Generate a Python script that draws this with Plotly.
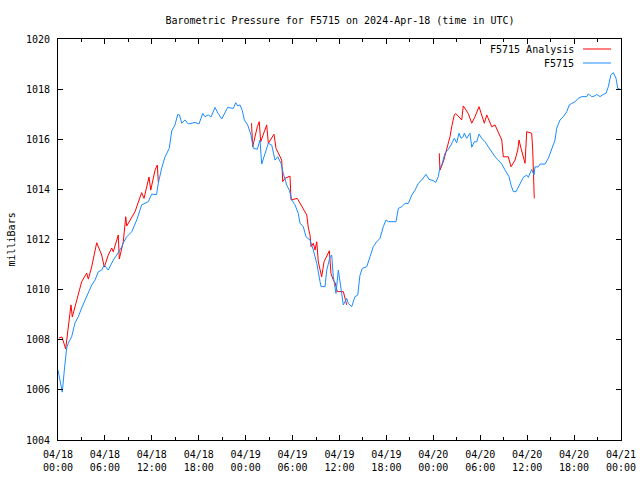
import plotly.graph_objects as go

# ---- data (hours since 2024-04-18 00:00 UTC, pressure in milliBars) ----
obs_hours = [0.00, 0.19, 0.55, 0.81, 1.11, 1.32, 1.75, 2.17, 2.60, 3.03, 3.45, 3.88, 4.31, 4.73,
             5.15, 5.59, 5.92, 6.43, 6.65, 7.07, 7.51, 7.93, 8.15, 8.35, 8.79, 9.43, 10.07, 10.70,
             11.55, 11.98, 12.60, 12.83, 13.26, 13.68, 14.23, 14.54, 14.96, 15.31, 15.54, 15.82,
             16.24, 16.66, 17.52, 18.03, 18.51, 18.80, 19.22, 19.57, 20.08, 20.46, 20.94, 21.70,
             22.42, 22.73, 22.98, 23.28, 23.57, 23.83, 24.26, 24.68, 24.98, 25.49, 25.83, 26.05,
             26.47, 26.90, 27.33, 27.75, 28.10, 28.52, 28.81, 29.25, 29.58, 29.89, 30.31, 30.73,
             30.95, 31.37, 31.72, 32.23, 32.65, 33.09, 33.51, 33.64, 34.15, 34.37, 34.79, 35.00,
             35.21, 35.55, 35.85, 36.07, 36.49, 36.92, 37.13, 37.56, 37.98, 38.33, 38.62, 38.92,
             39.48, 39.90, 40.32, 40.76, 41.18, 41.60, 41.95, 42.24, 43.23, 43.52, 43.96, 44.38,
             44.80, 45.24, 45.66, 46.08, 46.51, 47.06, 47.45, 48.00, 48.30, 48.64, 48.85, 49.07,
             49.49, 49.92, 50.26, 50.68, 50.99, 51.28, 51.54, 51.83, 51.96, 52.27, 52.69, 52.91,
             53.24, 53.55, 53.84, 54.19, 54.61, 55.03, 55.47, 55.89, 56.31, 56.75, 57.17, 57.39,
             57.68, 57.94, 58.23, 58.58, 58.87, 59.21, 59.51, 59.94, 60.15, 60.58, 60.88, 61.00,
             61.43, 61.64, 62.28, 62.71, 63.14, 63.56, 63.78, 64.20, 64.62, 65.06, 65.39, 65.70,
             66.12, 66.54, 66.98, 67.62, 67.82, 68.26, 68.68, 68.89, 69.32, 69.74, 70.08, 70.38,
             70.69, 71.02, 71.36, 71.58, 71.87]
obs_mb = [1006.79, 1006.47, 1005.91, 1006.79, 1007.67, 1007.87, 1008.12, 1008.67, 1008.92, 1009.27,
          1009.59, 1009.92, 1010.18, 1010.38, 1010.71, 1010.78, 1010.98, 1010.78, 1010.94, 1011.18,
          1011.38, 1011.58, 1011.71, 1011.86, 1012.11, 1012.31, 1012.78, 1013.38, 1013.51, 1013.81,
          1013.79, 1014.25, 1014.85, 1015.29, 1015.64, 1016.33, 1016.57, 1016.99, 1016.97, 1016.64,
          1016.77, 1016.61, 1016.67, 1016.61, 1017.03, 1016.90, 1016.97, 1016.89, 1017.27, 1017.04,
          1016.81, 1017.27, 1017.23, 1017.46, 1017.33, 1017.37, 1017.14, 1016.77, 1016.57, 1016.17,
          1015.64, 1015.60, 1015.97, 1015.01, 1015.44, 1015.84, 1015.77, 1015.17, 1015.30, 1015.04,
          1014.64, 1014.17, 1013.97, 1013.58, 1013.38, 1013.04, 1012.65, 1012.51, 1012.11, 1011.98,
          1011.58, 1011.05, 1010.32, 1010.12, 1010.12, 1010.78, 1011.31, 1011.38, 1010.51, 1009.85,
          1010.78, 1010.25, 1009.39, 1009.65, 1009.45, 1009.32, 1009.72, 1009.78, 1010.58, 1010.85,
          1010.91, 1011.31, 1011.71, 1011.91, 1012.05, 1012.51, 1012.78, 1012.71, 1012.71, 1013.24,
          1013.31, 1013.44, 1013.44, 1013.77, 1013.97, 1014.24, 1014.37, 1014.60, 1014.40, 1014.35,
          1014.28, 1014.51, 1014.90, 1014.97, 1015.44, 1015.60, 1015.77, 1016.04, 1015.86, 1016.24,
          1016.04, 1016.10, 1016.24, 1016.04, 1016.24, 1015.68, 1015.90, 1015.90, 1016.21, 1016.04,
          1015.90, 1015.70, 1015.50, 1015.30, 1015.17, 1015.01, 1014.77, 1014.64, 1014.51, 1014.17,
          1013.91, 1013.91, 1014.11, 1014.31, 1014.48, 1014.57, 1014.48, 1014.80, 1014.57, 1014.90,
          1014.90, 1015.01, 1015.01, 1015.24, 1015.64, 1015.97, 1016.44, 1016.77, 1016.90, 1017.10,
          1017.37, 1017.43, 1017.50, 1017.63, 1017.70, 1017.70, 1017.81, 1017.70, 1017.73, 1017.79,
          1017.70, 1017.79, 1017.83, 1018.10, 1018.56, 1018.66, 1018.43, 1018.03, 1018.00]

# analysis series (None marks gaps)
ana_hours = [0.13, 0.51, 0.98, 1.32, 1.66, 1.83, 2.17, 2.60, 3.03, 3.67, 3.88, 4.31, 4.95, 5.59,
             5.92, 6.43, 6.87, 7.07, 7.71, 7.84, 8.35, 8.66, 8.79, 9.85, 10.70, 11.00, 11.64,
             11.86, 12.41, 12.70, 12.83, None,
             24.75, 24.90, 25.49, 25.74, 25.92, 26.69, 26.90, 27.62, 27.88, 28.61, 28.74, 29.03,
             29.67, 29.80, 30.60, 31.17, 31.81, 32.02, 32.23, 32.36, 32.65, 32.87, 33.09, 33.29,
             33.72, 34.02, 34.70, 34.91, 35.21, 35.43, 35.72, 36.49, 36.74, 36.92, None,
             48.76, 48.85, 49.28, 49.71, 50.13, 50.35, 50.68, 50.86, 51.28, 51.63, 51.83, 52.47,
             52.91, 53.33, 53.84, 54.19, 54.52, 54.83, 55.12, 55.47, 55.89, 56.40, 56.75, 56.95,
             57.59, 57.94, 58.45, 58.80, 58.96, 59.21, 59.51, 59.73, 59.94, 60.58, 60.71, 60.79,
             60.91]
ana_mb = [1008.07, 1008.11, 1007.63, 1008.51, 1009.39, 1008.91, 1009.32, 1009.92, 1010.32, 1010.66,
          1010.42, 1010.91, 1011.87, 1011.38, 1010.90, 1011.38, 1011.66, 1011.51, 1012.18, 1011.22,
          1011.91, 1012.91, 1012.54, 1013.11, 1013.87, 1013.64, 1014.49, 1013.97, 1014.77, 1014.97,
          1014.29, None,
          1016.64, 1015.70, 1016.50, 1016.70, 1015.90, 1016.57, 1015.84, 1016.20, 1015.64, 1015.17,
          1014.31, 1014.44, 1014.53, 1013.58, 1013.64, 1013.31, 1012.98, 1012.45, 1012.18, 1011.71,
          1011.85, 1011.58, 1011.91, 1011.11, 1010.51, 1011.11, 1011.55, 1010.65, 1010.38, 1010.28,
          1009.92, 1009.92, 1009.58, 1009.39, None,
          1015.44, 1014.77, 1015.10, 1015.57, 1016.10, 1016.50, 1016.97, 1017.03, 1016.90, 1016.77,
          1017.33, 1017.03, 1016.64, 1016.90, 1017.30, 1016.97, 1016.64, 1016.97, 1016.77, 1016.50,
          1016.57, 1016.17, 1015.97, 1015.30, 1015.30, 1014.90, 1015.17, 1015.57, 1015.97, 1015.64,
          1015.30, 1015.04, 1016.30, 1016.24, 1015.57, 1014.31, 1013.64]

tick_hours = [0, 6, 12, 18, 24, 30, 36, 42, 48, 54, 60, 66, 72]
tick_labels = ["04/18<br>00:00", "04/18<br>06:00", "04/18<br>12:00", "04/18<br>18:00",
               "04/19<br>00:00", "04/19<br>06:00", "04/19<br>12:00", "04/19<br>18:00",
               "04/20<br>00:00", "04/20<br>06:00", "04/20<br>12:00", "04/20<br>18:00",
               "04/21<br>00:00"]
y_ticks = [1004, 1006, 1008, 1010, 1012, 1014, 1016, 1018, 1020]

RED = "#ff0000"
BLUE = "#1a8cff"
FONT = "DejaVu Sans Mono"

fig = go.Figure()
fig.add_trace(go.Scatter(x=ana_hours, y=ana_mb, mode="lines", name="F5715 Analysis",
                         line=dict(color=RED, width=1), connectgaps=False))
fig.add_trace(go.Scatter(x=obs_hours, y=obs_mb, mode="lines", name="F5715",
                         line=dict(color=BLUE, width=1)))

W, H = 640, 480
L, T, R, B = 58, 39, 19, 40
pw, ph = W - L - R, H - T - B

def px_x(p):
    return (p - L) / pw

def px_y(p):
    return 1 - (p - T) / ph

# gnuplot-style key: text then line sample to the right
key_entries = [("F5715 Analysis", RED, 49), ("F5715", BLUE, 63)]
annotations = []
shapes = []
for label, col, yy in key_entries:
    annotations.append(dict(x=px_x(576), y=px_y(yy), xref="paper", yref="paper",
                            text=label, showarrow=False, xanchor="right", yanchor="middle",
                            font=dict(family=FONT, size=10, color="black")))
    shapes.append(dict(type="line", xref="paper", yref="paper",
                       x0=px_x(583), x1=px_x(611), y0=px_y(yy), y1=px_y(yy),
                       line=dict(color=col, width=1)))

annotations.append(dict(x=px_x(11), y=0.5, xref="paper", yref="paper", text="milliBars",
                        textangle=-90, showarrow=False, xanchor="center", yanchor="middle",
                        font=dict(family=FONT, size=10, color="black")))

fig.update_layout(
    width=W, height=H,
    margin=dict(l=L, r=R, t=T, b=B, pad=0, autoexpand=False),
    paper_bgcolor="white", plot_bgcolor="white",
    showlegend=False,
    font=dict(family=FONT, size=10, color="black"),
    title=dict(text="Barometric Pressure for F5715 on 2024-Apr-18 (time in UTC)",
               x=px_x(340), xref="paper", xanchor="center",
               y=1 - 20 / H, yref="container", yanchor="middle",
               font=dict(family=FONT, size=10, color="black")),
    annotations=annotations,
    shapes=shapes,
    xaxis=dict(range=[0, 72], tickvals=tick_hours, ticktext=tick_labels, automargin=False,
               ticks="inside", ticklen=5, tickwidth=1, tickcolor="black",
               minor=dict(dtick=3, tick0=0, ticks="inside", ticklen=3, tickcolor="black"),
               showline=True, linecolor="black", linewidth=1, mirror="allticks",
               showgrid=False, zeroline=False, ticklabelstandoff=5,
               tickfont=dict(family=FONT, size=10, color="black")),
    yaxis=dict(range=[1004, 1020], tickvals=y_ticks, automargin=False,
               ticks="inside", ticklen=5, tickwidth=1, tickcolor="black",
               showline=True, linecolor="black", linewidth=1, mirror="allticks",
               showgrid=False, zeroline=False, ticklabelstandoff=5,
               tickfont=dict(family=FONT, size=10, color="black")),
)

# remove the page's default body margin so the 640x480 figure fills the window exactly
fig.write_html("out.html",
               config={"displayModeBar": False},
               post_script="document.body.style.margin='0';document.body.style.overflow='hidden';")
